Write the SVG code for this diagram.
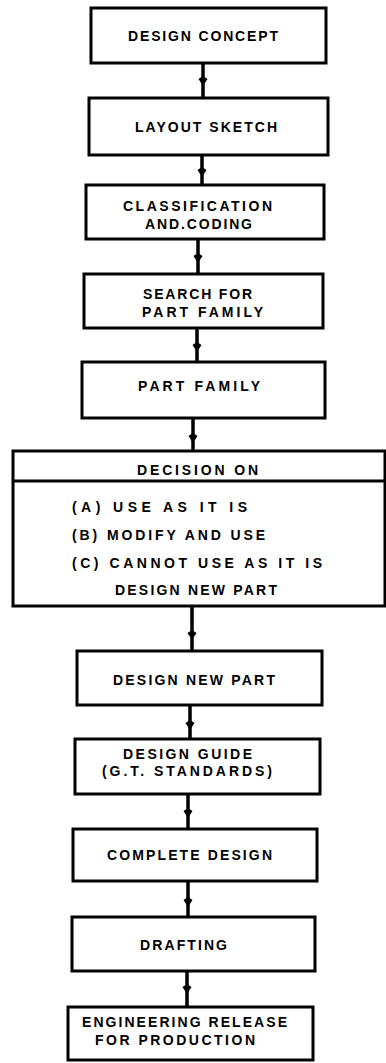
<svg xmlns="http://www.w3.org/2000/svg" width="386" height="1063" viewBox="0 0 386 1063">
<style>
.box{fill:#fff;stroke:#000;stroke-width:3}
.t{font-family:"Liberation Sans",Arial,sans-serif;font-weight:bold;font-size:14px;fill:#000}
.c{fill:none;stroke:#000;stroke-width:3.5}
</style>
<defs>
<marker id="blob" viewBox="0 0 10 10" refX="5" refY="5" markerWidth="11" markerHeight="10" markerUnits="userSpaceOnUse" orient="auto">
<path d="M0,5 L3,0.5 L10,5 L3,9.5 Z" fill="#000"/>
</marker>
</defs>
<rect width="386" height="1063" fill="#fff"/>
<g id="connectors">
<path class="c" d="M203,63 L203,81 L203,98" marker-mid="url(#blob)"/>
<path class="c" d="M202,155 L202,172 L202,185" marker-mid="url(#blob)"/>
<path class="c" d="M198,239 L198,258 L198,274" marker-mid="url(#blob)"/>
<path class="c" d="M197,328 L197,347 L197,362" marker-mid="url(#blob)"/>
<path class="c" d="M193,418 L193,438 L193,451" marker-mid="url(#blob)"/>
<path class="c" d="M192,606 L192,635 L192,651" marker-mid="url(#blob)"/>
<path class="c" d="M190,705 L190,725 L190,739" marker-mid="url(#blob)"/>
<path class="c" d="M188,794 L188,813 L188,829" marker-mid="url(#blob)"/>
<path class="c" d="M188,881 L188,902 L188,917" marker-mid="url(#blob)"/>
<path class="c" d="M187,971 L187,989 L187,1007" marker-mid="url(#blob)"/>
</g>
<g id="n1"><rect class="box" x="91" y="8" width="235" height="55"/>
<text class="t" x="128" y="41" textLength="150" lengthAdjust="spacing">DESIGN CONCEPT</text></g>
<g id="n2"><rect class="box" x="89" y="98" width="239" height="57"/>
<text class="t" x="135" y="132" textLength="142" lengthAdjust="spacing">LAYOUT SKETCH</text></g>
<g id="n3"><rect class="box" x="86" y="185" width="238" height="54"/>
<text class="t" x="123" y="211" textLength="149" lengthAdjust="spacing">CLASSIFICATION</text>
<text class="t" x="145" y="229" textLength="107" lengthAdjust="spacing">AND.CODING</text></g>
<g id="n4"><rect class="box" x="84" y="274" width="239" height="54"/>
<text class="t" x="143" y="299" textLength="109" lengthAdjust="spacing">SEARCH FOR</text>
<text class="t" x="142" y="317" textLength="121" lengthAdjust="spacing">PART FAMILY</text></g>
<g id="n5"><rect class="box" x="82" y="362" width="243" height="56"/>
<text class="t" x="138" y="391" textLength="122" lengthAdjust="spacing">PART FAMILY</text></g>
<g id="n6"><rect class="box" x="13" y="451" width="372" height="155"/>
<line x1="13" y1="481" x2="385" y2="481" stroke="#000" stroke-width="3"/>
<text class="t" x="137" y="475" textLength="121" lengthAdjust="spacing">DECISION ON</text>
<text class="t" x="72" y="512" textLength="175" lengthAdjust="spacing">(A) USE AS IT IS</text>
<text class="t" x="72" y="540" textLength="193" lengthAdjust="spacing">(B) MODIFY AND USE</text>
<text class="t" x="72" y="568" textLength="250" lengthAdjust="spacing">(C) CANNOT USE AS IT IS</text>
<text class="t" x="115" y="595" textLength="162" lengthAdjust="spacing">DESIGN NEW PART</text></g>
<g id="n7"><rect class="box" x="77" y="651" width="245" height="54"/>
<text class="t" x="113" y="685" textLength="162" lengthAdjust="spacing">DESIGN NEW PART</text></g>
<g id="n8"><rect class="box" x="75" y="739" width="245" height="55"/>
<text class="t" x="123" y="759" textLength="129" lengthAdjust="spacing">DESIGN GUIDE</text>
<text class="t" x="102" y="776" textLength="170" lengthAdjust="spacing">(G.T. STANDARDS)</text></g>
<g id="n9"><rect class="box" x="73" y="829" width="244" height="52"/>
<text class="t" x="107" y="860" textLength="165" lengthAdjust="spacing">COMPLETE DESIGN</text></g>
<g id="n10"><rect class="box" x="72" y="917" width="243" height="54"/>
<text class="t" x="140" y="950" textLength="87" lengthAdjust="spacing">DRAFTING</text></g>
<g id="n11"><rect class="box" x="68" y="1007" width="245" height="53"/>
<text class="t" x="82" y="1027" textLength="205" lengthAdjust="spacing">ENGINEERING RELEASE</text>
<text class="t" x="95" y="1045" textLength="160" lengthAdjust="spacing">FOR PRODUCTION</text></g>
</svg>
